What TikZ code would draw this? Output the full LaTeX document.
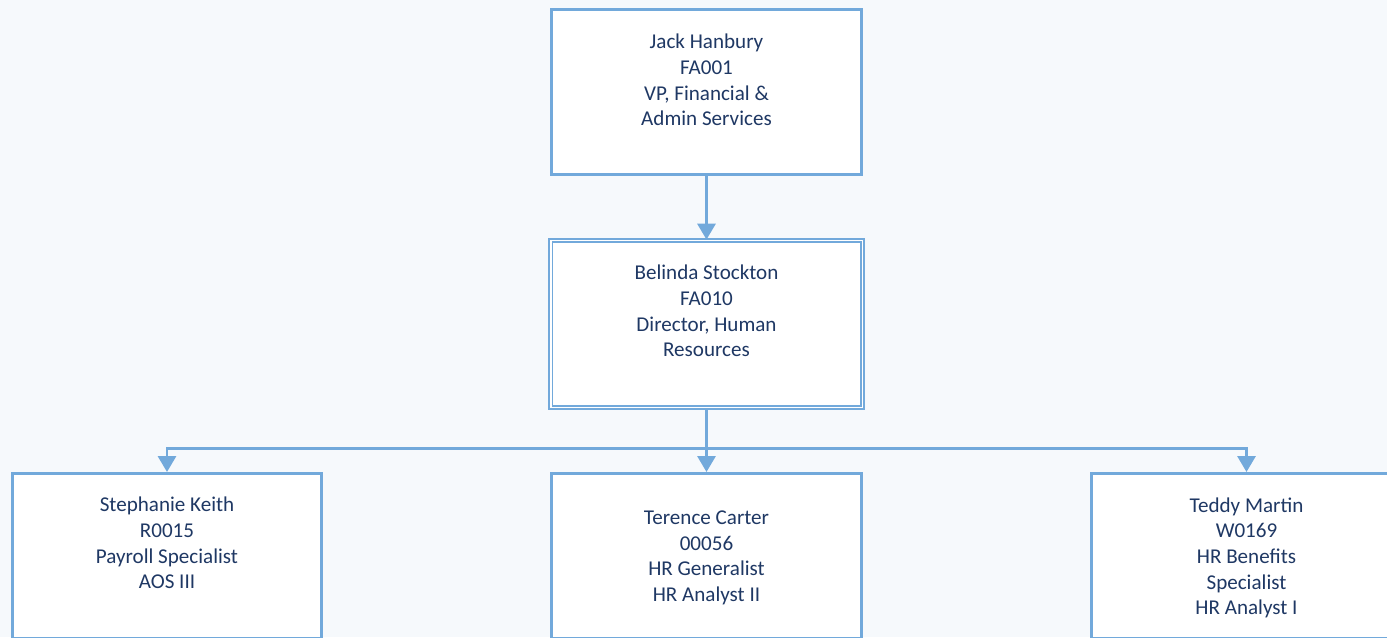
\documentclass[tikz,border=0pt]{standalone}
\usepackage{fontspec}
\setmainfont{Carlito}
\usetikzlibrary{positioning, arrows.meta}
\definecolor{orgblue}{HTML}{72A9DB}
\definecolor{orgnavy}{HTML}{1F3864}
\definecolor{orgback}{HTML}{F6F9FC}

\tikzset{
	card/.style={draw=orgblue, line width=1.7pt, fill=white, inner sep=0pt,
		minimum width=6.2cm, minimum height=3.3cm},
	dcard/.style={card, line width=1pt, double=white, double distance=1.1pt,
		minimum width=6.24cm, minimum height=3.34cm},
	who/.style={text=orgnavy, align=center, font=\fontsize{12}{14.6}\selectfont},
	link/.style={draw=orgblue, line width=1.7pt, -{Triangle[width=0.36cm, length=0.32cm]}},
}

\begin{document}
\begin{tikzpicture}[x=0.02cm, y=-0.02cm]
		\clip (0,0) rectangle (1387,637);
		\fill[orgback] (0,0) rectangle (1387,637);
		
		% boxes
		\node[card] (jack) at (706.5,92) {};
		\node[dcard] (belinda) at (706.5,324) {};
		\node[card] (stephanie) at (167,556) {};
		\node[card] (terence) at (706.5,556) {};
		\node[card] (teddy) at (1246.5,556) {};
		
		% names
		\node[who] (jacktxt) at ([yshift=0.24cm]jack.center) {Jack Hanbury\\FA001\\VP, Financial \&\\Admin Services};
		\node[who] (belindatxt) at ([yshift=0.26cm]belinda.center) {Belinda Stockton\\FA010\\Director, Human\\Resources};
		\node[who] (stephanietxt) at ([yshift=0.26cm]stephanie.center) {Stephanie Keith\\R0015\\Payroll Specialist\\AOS III};
		\node[who] (terencetxt) at ([yshift=-0.04cm]terence.center) {Terence Carter\\00056\\HR Generalist\\HR Analyst II};
		\node[who] (teddytxt) at ([yshift=-0.04cm]teddy.center) {Teddy Martin\\W0169\\HR Benefits\\Specialist\\HR Analyst I};
		
		\coordinate (bus) at (706.5,448);
		
		\draw[link] (jack.south) -- (belinda.north);
		\draw[link] (belinda.south) -- (terence.north);
		\draw[link] (bus) -| (stephanie.north);
		\draw[link] (bus) -| (teddy.north);
\end{tikzpicture}
\end{document}
